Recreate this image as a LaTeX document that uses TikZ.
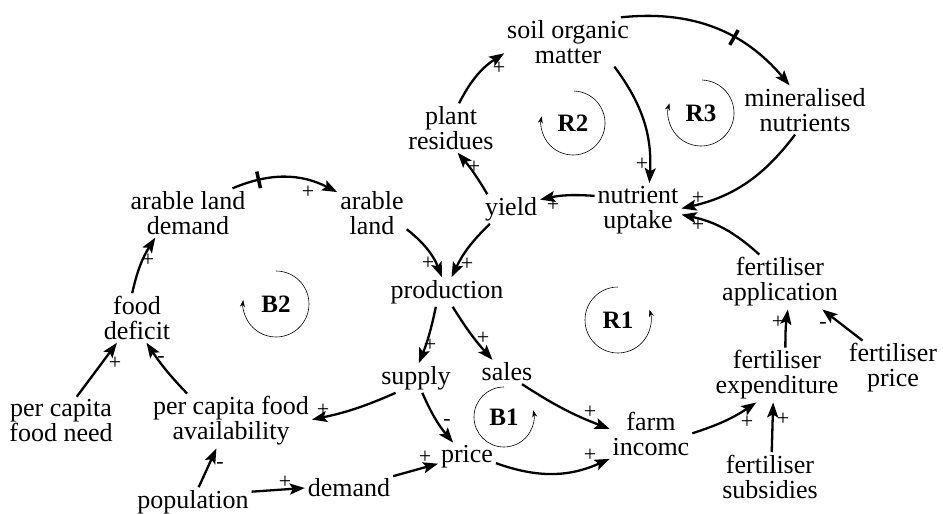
\documentclass[tikz,border=0pt]{standalone}
\usepackage{fontspec}
\setmainfont{Liberation Serif}
\usetikzlibrary{arrows.meta,calc}
\begin{document}
\begin{tikzpicture}[x=1pt,y=1pt,
  var/.style={align=center, font=\fontsize{26}{25}\selectfont, inner sep=1pt, outer sep=2pt, text=black},
  sgn/.style={font=\fontsize{22}{22}\selectfont, inner sep=0pt},
  lp/.style={font=\fontsize{25}{25}\selectfont\bfseries, inner sep=0pt},
  link/.style={line width=2.3pt, -{Stealth[length=15pt,width=11pt,inset=3pt]}},
  looparc/.style={line width=0.6pt, -{Stealth[length=7pt,width=5pt]}},
  delaymark/.style={sloped, inner sep=0pt, minimum width=3.5pt, minimum height=17pt, fill=black}
]
\useasboundingbox (0,0) rectangle (943,-514);

% variables
\node[var] (soil) at (568,-42) {soil organic\\matter};
\node[var] (min) at (805,-110) {mineralised\\nutrients};
\node[var] (plant) at (451,-128) {plant\\residues};
\node[var] (nutr) at (638,-210) {nutrient\\uptake};
\node[var] (yield) at (511,-209) {yield};
\node[var] (ald) at (188,-213) {arable land\\demand};
\node[var] (al) at (372,-213) {arable\\land};
\node[var] (prod) at (447,-292) {production};
\node[var] (fd) at (137,-318) {food\\deficit};
\node[var] (fapp) at (780,-282) {fertiliser\\application};
\node[var] (fexp) at (777,-375) {fertiliser\\expenditure};
\node[var] (fprice) at (893,-368) {fertiliser\\price};
\node[var] (fsub) at (770,-477) {fertiliser\\subsidies};
\node[var] (farm) at (651,-434) {farm\\incomc};
\node[var] (sales) at (507,-372) {sales};
\node[var] (supply) at (416,-378) {supply};
\node[var] (price) at (467,-457) {price};
\node[var] (demand) at (349,-488) {demand};
\node[var] (pop) at (193,-502) {population};
\node[var] (pcfa) at (231,-421) {per capita food\\availability};
\node[var] (pcfn) at (61,-421) {per capita\\food need};

% links
\draw[link] (soil.25) to[bend left=28] node[delaymark,pos=0.62] (d1) {} (min.122);
\draw[link] (soil.-28) to[bend left=20] (nutr.67);
\draw[link] (plant.72) to[bend left=15] (soil.190);
\draw[link] (yield.148) to[bend right=5] (plant.-75);
\draw[link] (nutr.162) to[bend right=8] (yield.18);
\draw[link] (min.-112) to[bend left=20] (nutr.2);
\draw[link] (fapp.127) to[bend right=15] (nutr.-6);
\draw[link] (yield.215) to[bend right=10] (prod.73);
\draw[link] (al.-25) to[bend left=15] (prod.109);
\draw[link] (ald.29) to[bend left=25] node[delaymark,pos=0.24] (d2) {} (al.149);
\draw[link] (fd.101) to[bend left=10] (ald.217);
\draw[link] (pcfn.57) -- (fd.231);
\draw[link] (pcfa.148) to[bend left=5] (fd.-69);
\draw[link] (supply.216) to[bend left=6] (pcfa.1);
\draw[link] (pop.69) -- (pcfa.242);
\draw[link] (pop.10) -- (demand.180);
\draw[link] (demand.15) -- (price.193);
\draw[link] (supply.-67) to[bend right=8] (price.134);
\draw[link] (prod.233) to[bend left=5] (supply.79);
\draw[link] (prod.-69) to[bend right=5] (sales.140);
\draw[link] (sales.-39) to[bend right=6] (farm.173);
\draw[link] (price.-12) to[bend right=22] (farm.211);
\draw[link] (farm.1) to[bend right=8] (fexp.233);
\draw[link] (fsub.86) -- (fexp.262);
\draw[link] (fexp.73) to[bend left=4] (fapp.-74);
\draw[link] (fprice.138) -- (fapp.-33);

% signs
\node[sgn] (s2) at (642,-164) {+};
\node[sgn] (s3) at (499,-68) {+};
\node[sgn] (s4) at (474,-167) {+};
\node[sgn] (s5) at (553,-205) {+};
\node[sgn] (s6) at (698,-198) {+};
\node[sgn] (s7) at (698,-225) {+};
\node[sgn] (s8) at (467,-264) {+};
\node[sgn] (s9) at (428,-263) {+};
\node[sgn] (s10) at (308,-192) {+};
\node[sgn] (s11) at (148,-260) {+};
\node[sgn] (s12) at (115,-363) {+};
\node[sgn] (s13) at (161,-359) {-};
\node[sgn] (s14) at (323,-410) {+};
\node[sgn] (s15) at (220,-465) {-};
\node[sgn] (s16) at (285,-482) {+};
\node[sgn] (s17) at (425,-457) {+};
\node[sgn] (s18) at (447,-422) {-};
\node[sgn] (s19) at (430,-345) {+};
\node[sgn] (s20) at (483,-338) {+};
\node[sgn] (s21) at (590,-412) {+};
\node[sgn] (s22) at (590,-455) {+};
\node[sgn] (s23) at (747,-422) {+};
\node[sgn] (s24) at (783,-419) {+};
\node[sgn] (s25) at (778,-322) {+};
\node[sgn] (s26) at (823,-325) {-};

% loops
\node[lp] (R2) at (573,-123) {R2};
\draw[looparc] (R2.center) ++(88:32) arc[start angle=88, end angle=-192, radius=32];
\node[lp] (R3) at (701,-113) {R3};
\draw[looparc] (R3.center) ++(88:33) arc[start angle=88, end angle=-197, radius=33];
\node[lp] (R1) at (618,-320) {R1};
\draw[looparc] (R1.center) ++(90:33) arc[start angle=90, end angle=378, radius=33];
\node[lp] (B1) at (504,-417) {B1};
\draw[looparc] (B1.center) ++(90:30) arc[start angle=90, end angle=373, radius=30];
\node[lp] (B2) at (276,-304) {B2};
\draw[looparc] (B2.center) ++(90:33) arc[start angle=90, end angle=-187, radius=33];
\end{tikzpicture}
\end{document}
